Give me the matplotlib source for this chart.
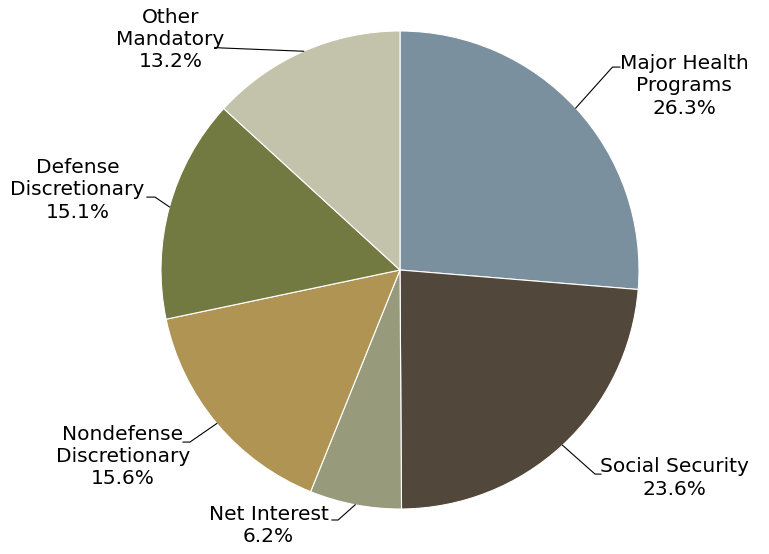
import numpy as np
import matplotlib.pyplot as plt

# spending shares, clockwise from 12 o'clock
categories = ["Major Health\nPrograms", "Social Security", "Net Interest",
              "Nondefense\nDiscretionary", "Defense\nDiscretionary", "Other\nMandatory"]
shares = [26.3, 23.6, 6.2, 15.6, 15.1, 13.2]
colors = ["#7b909e", "#51473b", "#979b7b", "#b09454", "#737a41", "#c3c3ab"]

# label placement (pie units): text centre, elbow of the leader, end of the leader
text_pos = [(1.19, 0.77), (1.15, -0.87), (-0.55, -1.07), (-1.16, -0.78), (-1.35, 0.335), (-0.96, 0.965)]
elbow_pos = [(0.889, 0.849), (0.816, -0.854), (-0.259, -1.046), (-0.879, -0.720), (-1.025, 0.305), (-0.745, 0.929)]
tail_pos = [(0.92, 0.849), (0.841, -0.854), (-0.285, -1.046), (-0.908, -0.720), (-1.059, 0.305), (-0.775, 0.931)]

R = 239.0  # pie radius in pixels
fig = plt.figure(figsize=(7.69, 5.54), dpi=100)
ax = fig.add_axes([0, 0, 1, 1])

wedges, _ = ax.pie(shares, colors=colors, startangle=90, counterclock=False, radius=1,
                   wedgeprops=dict(edgecolor="white", linewidth=0.8))

# pie() resets the limits, so fix the scale afterwards
ax.set_xlim(-400 / R, 369 / R)
ax.set_ylim(-284 / R, 270 / R)
ax.set_aspect("equal")
ax.axis("off")

for w, cat, val, tp, ep, tl in zip(wedges, categories, shares, text_pos, elbow_pos, tail_pos):
    ang = np.deg2rad((w.theta1 + w.theta2) / 2)
    edge = (np.cos(ang), np.sin(ang))
    ax.plot([edge[0], ep[0], tl[0]], [edge[1], ep[1], tl[1]], color="black", lw=0.8)
    ax.text(tp[0], tp[1], f"{cat}\n{val:.1f}%", ha="center", va="center",
            fontsize=14.5, family="DejaVu Sans", linespacing=1.22)

fig.savefig("out.png", dpi=100)
